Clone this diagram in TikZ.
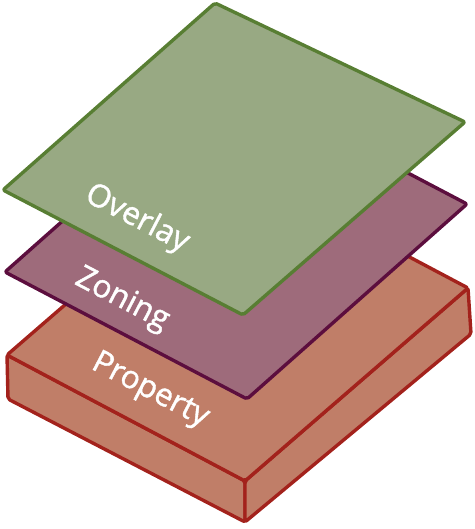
\documentclass[tikz,border=0pt]{standalone}
\usepackage{fontspec}
\setmainfont{Open Sans}
\newfontfamily\labelfont[FakeBold=1.3]{Open Sans}
\definecolor{greenfill}{HTML}{98A983}
\definecolor{greenline}{HTML}{587E33}
\definecolor{purplefill}{HTML}{9E6B7B}
\definecolor{purpleline}{HTML}{5C0E3E}
\definecolor{brickfill}{HTML}{C07E68}
\definecolor{brickline}{HTML}{A3221C}
\tikzset{
  face/.style={line width=3.4pt, line join=round, rounded corners=2pt},
  label/.style={text=white, font=\labelfont\fontsize{31.5}{31.5}\selectfont, inner sep=0pt}
}
\begin{document}
\begin{tikzpicture}[x=1pt,y=-1pt]
\useasboundingbox (0,0) rectangle (474,529);
% Property box
\coordinate (pl) at (7,355);
\coordinate (pf) at (245,481);
\coordinate (pr) at (468,288);
\coordinate (pb) at (230,162);
\coordinate (plb) at (8,399);
\coordinate (pfb) at (245,522);
\coordinate (prb) at (471,334);
\draw[face, draw=brickline, fill=brickfill] (pl) -- (pf) -- (pfb) -- (plb) -- cycle;
\draw[face, draw=brickline, fill=brickfill] (pf) -- (pr) -- (prb) -- (pfb) -- cycle;
\draw[face, draw=brickline, fill=brickfill] (pl) -- (pf) -- (pr) -- (pb) -- cycle;
% Zoning layer
\coordinate (zl) at (5,272);
\coordinate (zf) at (247,399);
\coordinate (zr) at (467,204);
\coordinate (zb) at (225,77);
\draw[face, draw=purpleline, fill=purplefill] (zl) -- (zf) -- (zr) -- (zb) -- cycle;
% Overlay layer
\coordinate (ol) at (3,190);
\coordinate (of) at (243,315);
\coordinate (or) at (465,122);
\coordinate (ob) at (215,3);
\draw[face, draw=greenline, fill=greenfill] (ol) -- (of) -- (or) -- (ob) -- cycle;
% Labels
\node[label, rotate=-27.5] (overlay) at (137,219) {Overlay};
\node[label, rotate=-27.5] (zoning) at (122,300) {Zoning};
\node[label, rotate=-27.5] (property) at (150,391) {Property};
\end{tikzpicture}
\end{document}
